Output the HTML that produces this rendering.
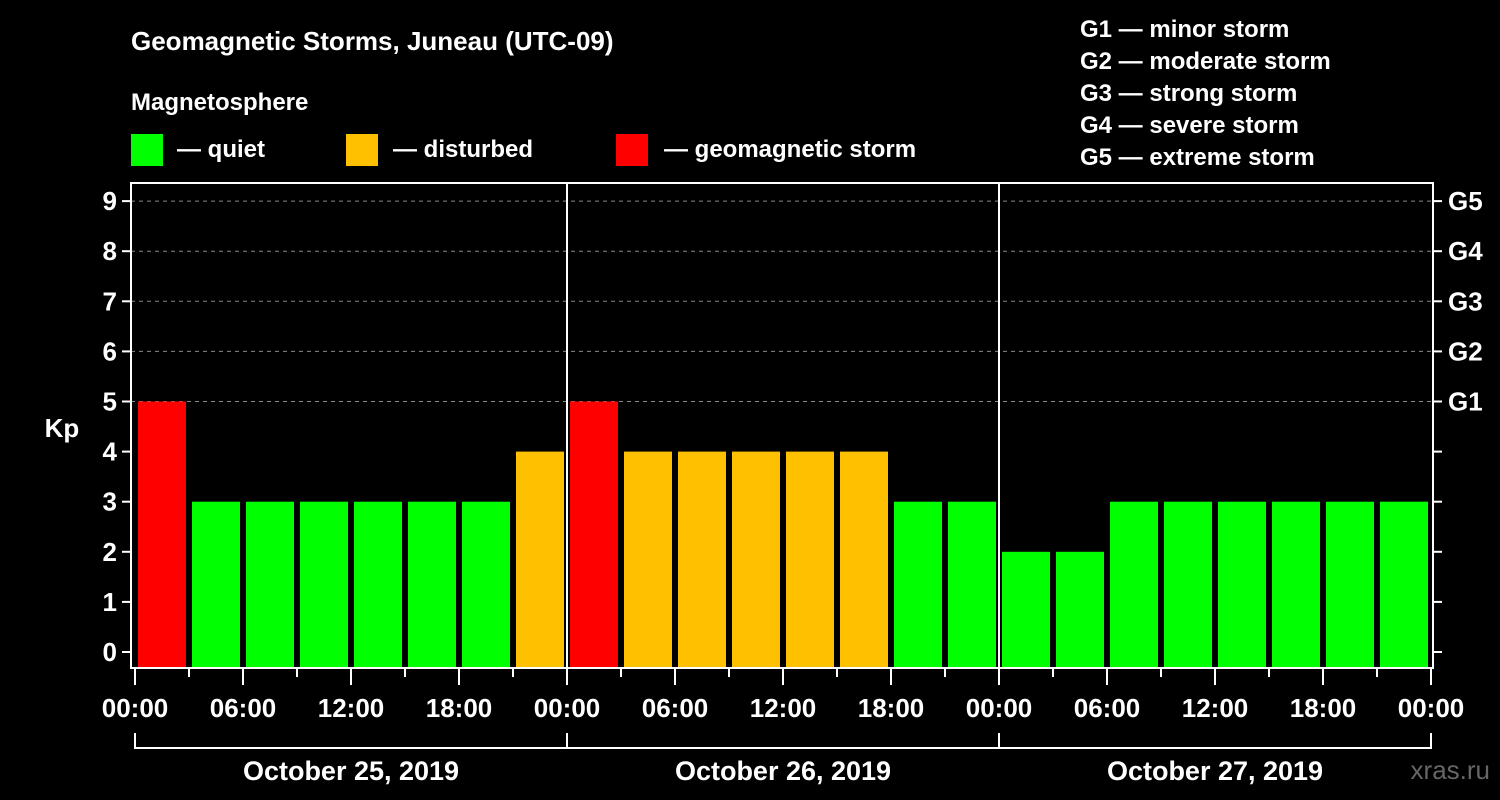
<!DOCTYPE html>
<html><head><meta charset="utf-8"><style>
body{margin:0;background:#000;width:1500px;height:800px;overflow:hidden}
svg{display:block;font-family:"Liberation Sans",Arial,sans-serif;font-weight:bold}
</style></head><body>
<svg id="c" width="1500" height="800">
<rect width="1500" height="800" fill="#000"/>
<text x="131" y="50" fill="#fff" font-size="26">Geomagnetic Storms, Juneau (UTC-09)</text>
<text x="131" y="110" fill="#fff" font-size="24">Magnetosphere</text>
<g><rect x="131" y="134" width="32" height="32" fill="#00ff00"/><text x="177" y="157" fill="#fff" font-size="24">— quiet</text></g>
<g><rect x="346" y="134" width="32" height="32" fill="#ffc000"/><text x="393" y="157" fill="#fff" font-size="24">— disturbed</text></g>
<g><rect x="616" y="134" width="32" height="32" fill="#ff0000"/><text x="664" y="157" fill="#fff" font-size="24">— geomagnetic storm</text></g>
<g fill="#fff" font-size="24">
<text x="1080" y="37">G1 — minor storm</text>
<text x="1080" y="69">G2 — moderate storm</text>
<text x="1080" y="101">G3 — strong storm</text>
<text x="1080" y="133">G4 — severe storm</text>
<text x="1080" y="165">G5 — extreme storm</text>
</g>
<text x="62" y="437" fill="#fff" font-size="26" text-anchor="middle">Kp</text>
<text x="1490" y="779" fill="#666" font-size="26" text-anchor="end" font-weight="normal">xras.ru</text>
<g id="plot"></g>
</svg>
<script>
const kpValues=[5,3,3,3,3,3,3,4, 5,4,4,4,4,4,3,3, 2,2,3,3,3,3,3,3];
const yTicks=[0,1,2,3,4,5,6,7,8,9];
const gLabels=["G1","G2","G3","G4","G5"];
const gLevels=[5,6,7,8,9];
const xTickLabels=["00:00","06:00","12:00","18:00","00:00","06:00","12:00","18:00","00:00","06:00","12:00","18:00","00:00"];
const dayLabels=["October 25, 2019","October 26, 2019","October 27, 2019"];
const NS="http://www.w3.org/2000/svg";
const g=document.getElementById('plot');
const L=131,R=1433,T=183,B=668,X0=135,DAY=432;
const x=h=>X0+h*DAY/24;
const y=k=>652-k*50.1;
function el(t,a,p){const e=document.createElementNS(NS,t);for(const k in a)e.setAttribute(k,a[k]);(p||g).appendChild(e);return e;}
function txt(s,a){const e=el('text',Object.assign({fill:'#fff','font-size':26},a));e.textContent=s;return e;}
yTicks.forEach(k=>{
  if(k>=5){const d=el('line',{x1:L,x2:R,y1:y(k),y2:y(k),stroke:'#888','stroke-dasharray':'4 4','stroke-width':1});
  
  }
  const t=el('line',{x1:L-9,x2:L,y1:y(k),y2:y(k),stroke:'#fff','stroke-width':2});
  
  
  const r=el('line',{x1:R,x2:R+9,y1:y(k),y2:y(k),stroke:'#fff','stroke-width':2});
  
  
  const l=txt(String(k),{x:L-14,y:y(k)+9,'text-anchor':'end'});
  
  
});
gLabels.forEach((s,i)=>{
  const l=txt(s,{x:1448,y:y(gLevels[i])+9});
  
  
});
kpValues.forEach((v,i)=>{
  const c=v>=5?'#ff0000':v>=4?'#ffc000':'#00ff00';
  const b=el('rect',{x:x(i*3)+3,y:y(v),width:48,height:B-1-y(v),fill:c});
  
  
});
for(let d=1;d<dayLabels.length;d++){
  const s=el('line',{x1:x(d*24),x2:x(d*24),y1:T,y2:B,stroke:'#fff','stroke-width':2});
  
  
}
const f=el('rect',{x:L,y:T,width:R-L,height:B-T,fill:'none',stroke:'#fff','stroke-width':2});


for(let i=0;i<=24;i++){
  const maj=i%2===0;
  const t=el('line',{x1:x(i*3),x2:x(i*3),y1:B,y2:B+(maj?17:9),stroke:'#fff','stroke-width':2});
  
  
}
xTickLabels.forEach((s,i)=>{
  const l=txt(s,{x:x(i*6),y:717,'text-anchor':'middle'});
  
  
});
dayLabels.forEach((s,i)=>{
  const a=x(i*24),b=x((i+1)*24);
  const br=el('path',{d:`M${a},733V748H${b}V733`,fill:'none',stroke:'#fff','stroke-width':2});
  
  
  const l=txt(s,{x:(a+b)/2,y:780,'text-anchor':'middle',"font-size":27});
  
  
});
</script>
</body></html>
